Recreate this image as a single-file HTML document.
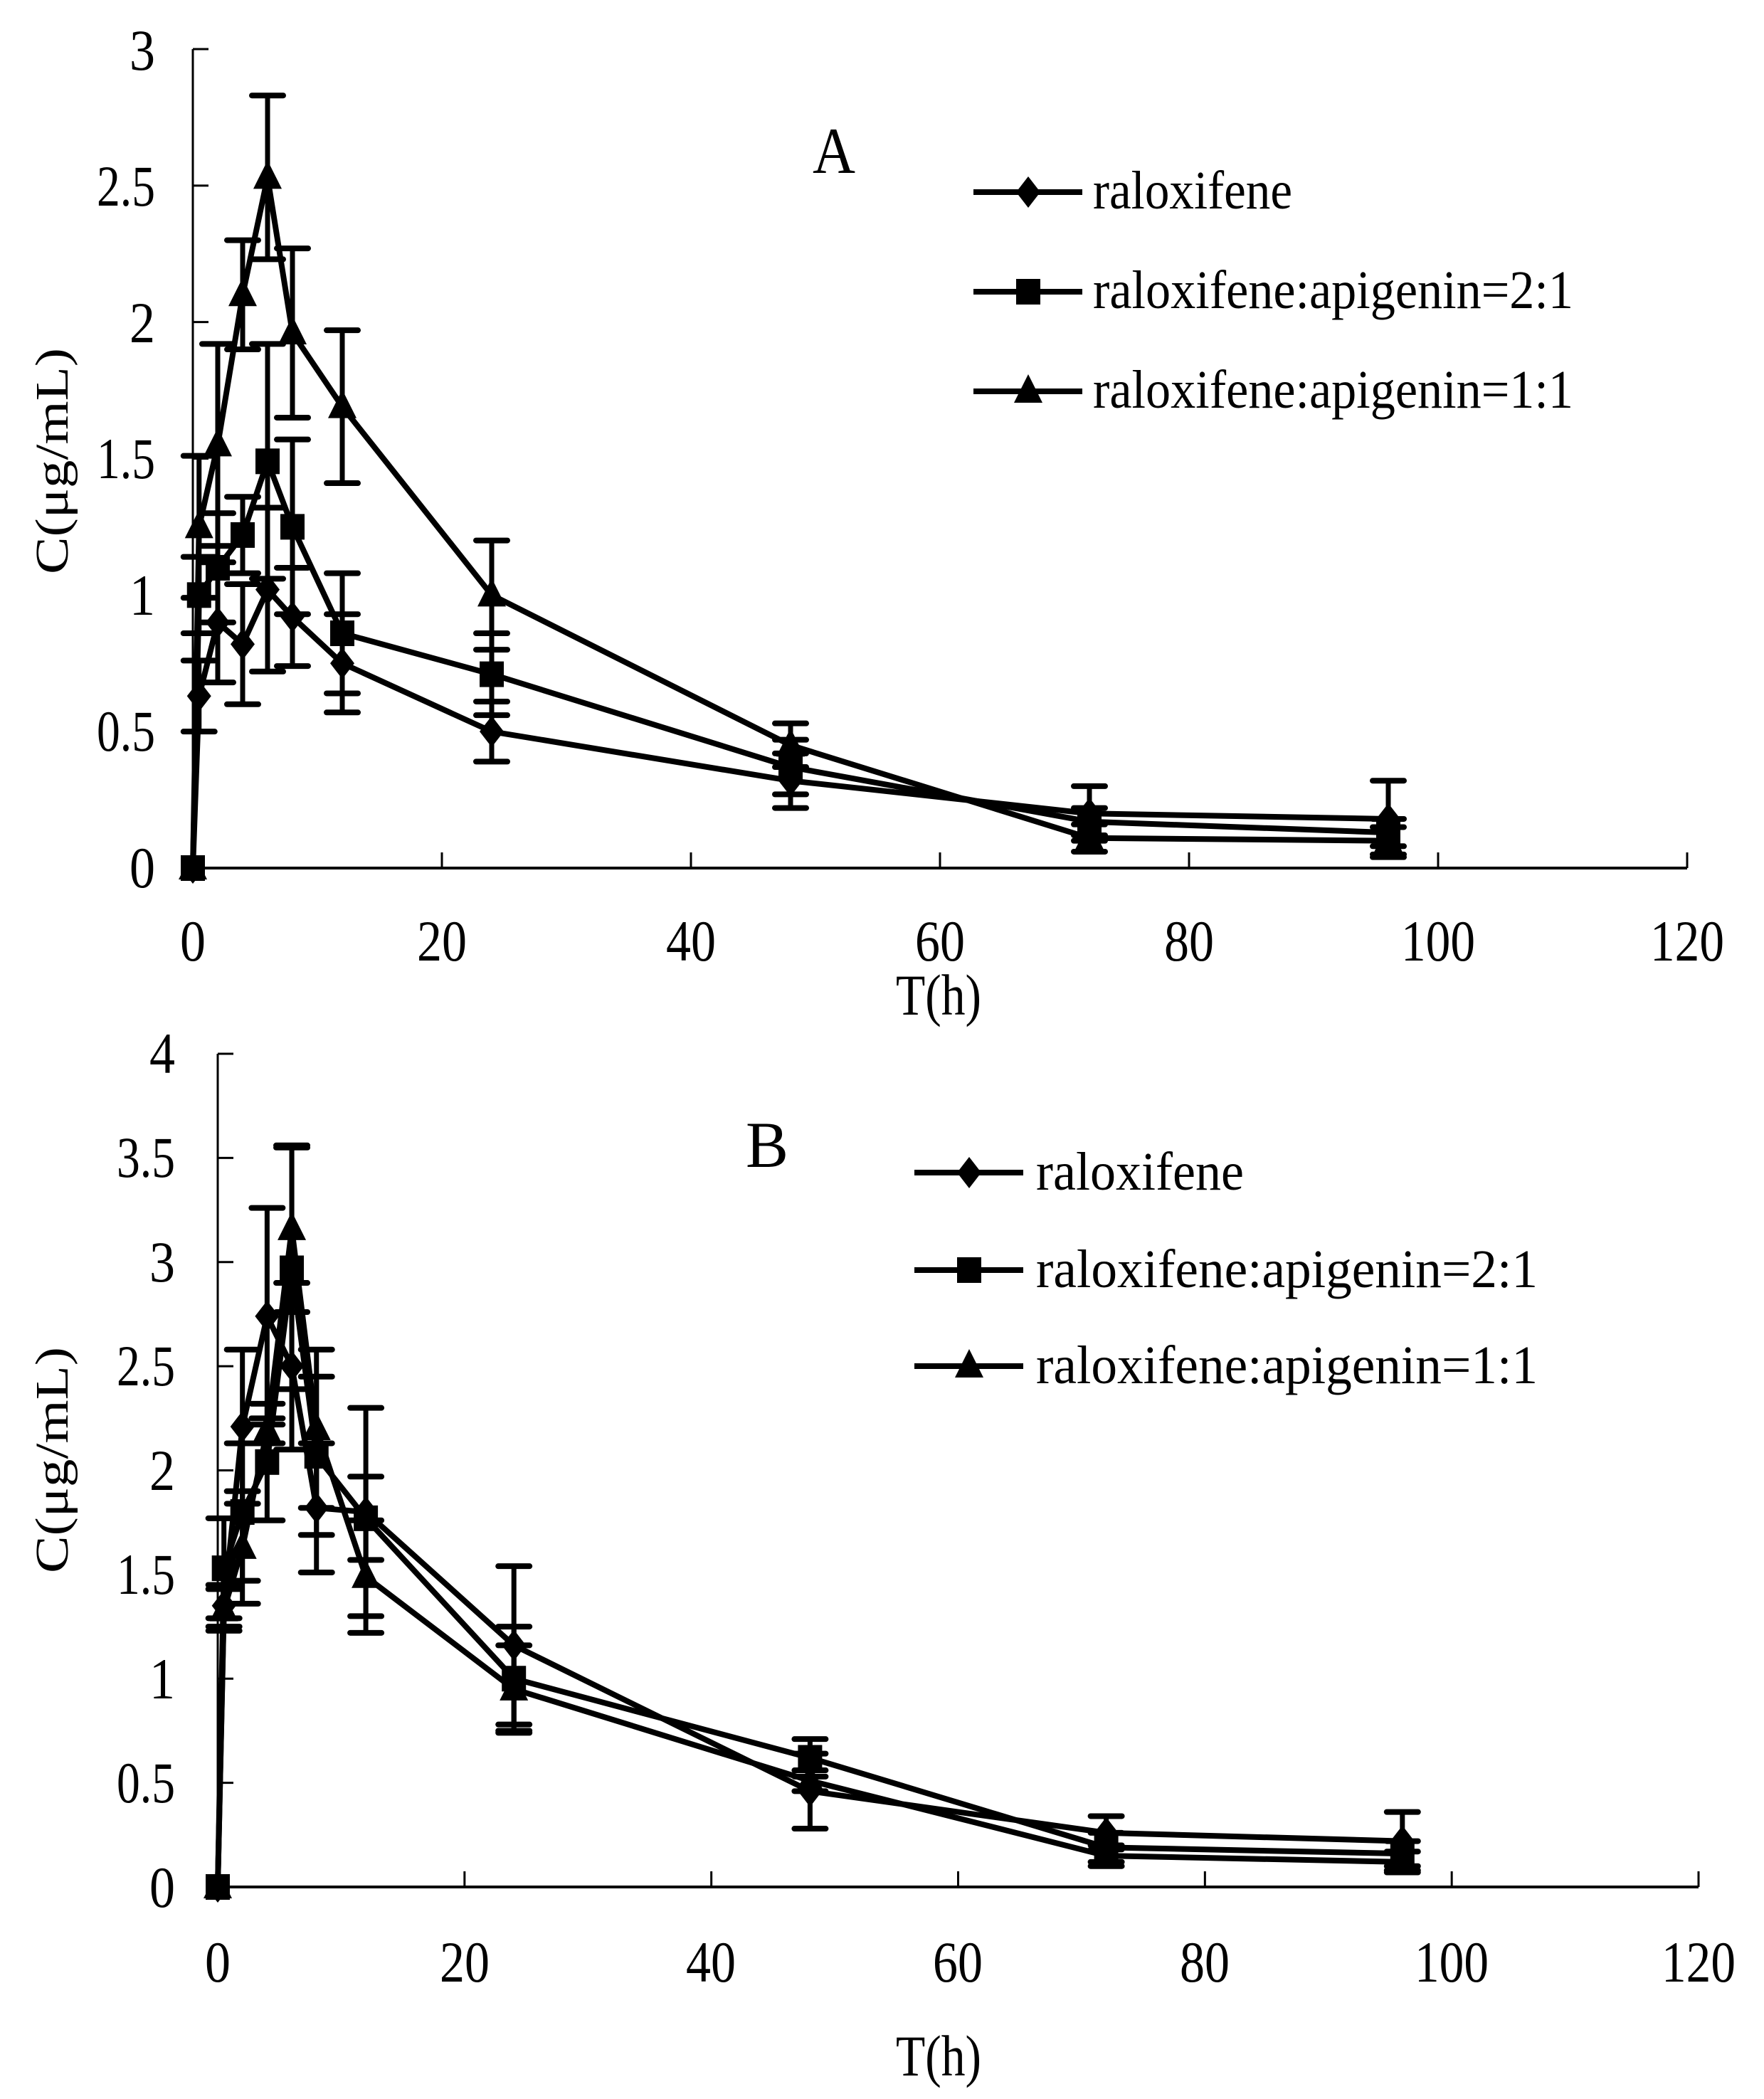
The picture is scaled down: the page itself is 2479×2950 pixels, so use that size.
<!DOCTYPE html>
<html><head><meta charset="utf-8"><style>
html,body{margin:0;padding:0;background:#fff;}
svg{display:block;}
text{font-family:"Liberation Serif",serif;fill:#000;}
</style></head><body>
<svg id="s" width="2479" height="2950" viewBox="0 0 2479 2950" xmlns="http://www.w3.org/2000/svg">
<rect width="2479" height="2950" fill="#fff"/>
<g id="plot"></g>
<!-- Plot A text -->
<g font-size="82" text-anchor="end">
<text x="218" y="1247" textLength="36" lengthAdjust="spacingAndGlyphs">0</text>
<text x="218" y="1055" textLength="82" lengthAdjust="spacingAndGlyphs">0.5</text>
<text x="218" y="864" textLength="36" lengthAdjust="spacingAndGlyphs">1</text>
<text x="218" y="672" textLength="82" lengthAdjust="spacingAndGlyphs">1.5</text>
<text x="218" y="481" textLength="36" lengthAdjust="spacingAndGlyphs">2</text>
<text x="218" y="289" textLength="82" lengthAdjust="spacingAndGlyphs">2.5</text>
<text x="218" y="98" textLength="36" lengthAdjust="spacingAndGlyphs">3</text>
</g>
<g font-size="82" text-anchor="middle">
<text x="271" y="1350" textLength="36" lengthAdjust="spacingAndGlyphs">0</text>
<text x="621" y="1350" textLength="70" lengthAdjust="spacingAndGlyphs">20</text>
<text x="971" y="1350" textLength="70" lengthAdjust="spacingAndGlyphs">40</text>
<text x="1321" y="1350" textLength="70" lengthAdjust="spacingAndGlyphs">60</text>
<text x="1671" y="1350" textLength="70" lengthAdjust="spacingAndGlyphs">80</text>
<text x="2021" y="1350" textLength="104" lengthAdjust="spacingAndGlyphs">100</text>
<text x="2371" y="1350" textLength="104" lengthAdjust="spacingAndGlyphs">120</text>
<text x="1319" y="1426" textLength="120" lengthAdjust="spacingAndGlyphs">T(h)</text>
<text x="1172" y="243" font-size="92" textLength="60" lengthAdjust="spacingAndGlyphs">A</text>
</g>
<text transform="translate(95,648) rotate(-90)" font-size="66" text-anchor="middle" textLength="318" lengthAdjust="spacingAndGlyphs">C(μg/mL)</text>
<g font-size="76">
<text x="1536" y="293" textLength="280" lengthAdjust="spacingAndGlyphs">raloxifene</text>
<text x="1536" y="433" textLength="675" lengthAdjust="spacingAndGlyphs">raloxifene:apigenin=2:1</text>
<text x="1536" y="573" textLength="675" lengthAdjust="spacingAndGlyphs">raloxifene:apigenin=1:1</text>
</g>
<!-- Plot B text -->
<g font-size="82" text-anchor="end">
<text x="246" y="2680" textLength="36" lengthAdjust="spacingAndGlyphs">0</text>
<text x="246" y="2533" textLength="82" lengthAdjust="spacingAndGlyphs">0.5</text>
<text x="246" y="2387" textLength="36" lengthAdjust="spacingAndGlyphs">1</text>
<text x="246" y="2240" textLength="82" lengthAdjust="spacingAndGlyphs">1.5</text>
<text x="246" y="2094" textLength="36" lengthAdjust="spacingAndGlyphs">2</text>
<text x="246" y="1947" textLength="82" lengthAdjust="spacingAndGlyphs">2.5</text>
<text x="246" y="1801" textLength="36" lengthAdjust="spacingAndGlyphs">3</text>
<text x="246" y="1654" textLength="82" lengthAdjust="spacingAndGlyphs">3.5</text>
<text x="246" y="1508" textLength="36" lengthAdjust="spacingAndGlyphs">4</text>
</g>
<g font-size="82" text-anchor="middle">
<text x="306" y="2785" textLength="36" lengthAdjust="spacingAndGlyphs">0</text>
<text x="653" y="2785" textLength="70" lengthAdjust="spacingAndGlyphs">20</text>
<text x="999" y="2785" textLength="70" lengthAdjust="spacingAndGlyphs">40</text>
<text x="1346" y="2785" textLength="70" lengthAdjust="spacingAndGlyphs">60</text>
<text x="1693" y="2785" textLength="70" lengthAdjust="spacingAndGlyphs">80</text>
<text x="2040" y="2785" textLength="104" lengthAdjust="spacingAndGlyphs">100</text>
<text x="2387" y="2785" textLength="104" lengthAdjust="spacingAndGlyphs">120</text>
<text x="1319" y="2917" textLength="120" lengthAdjust="spacingAndGlyphs">T(h)</text>
<text x="1078" y="1640" font-size="92" textLength="60" lengthAdjust="spacingAndGlyphs">B</text>
</g>
<text transform="translate(95,2052) rotate(-90)" font-size="66" text-anchor="middle" textLength="318" lengthAdjust="spacingAndGlyphs">C(μg/mL)</text>
<g font-size="76">
<text x="1456" y="1672" textLength="292" lengthAdjust="spacingAndGlyphs">raloxifene</text>
<text x="1456" y="1809" textLength="705" lengthAdjust="spacingAndGlyphs">raloxifene:apigenin=2:1</text>
<text x="1456" y="1944" textLength="705" lengthAdjust="spacingAndGlyphs">raloxifene:apigenin=1:1</text>
</g>
</svg>
<script>
(function(){
var NS="http://www.w3.org/2000/svg",g=document.getElementById("plot");
function el(n,a){var e=document.createElementNS(NS,n);for(var k in a)e.setAttribute(k,a[k]);g.appendChild(e);return e;}
var T=[0,0.5,2,4,6,8,12,24,48,72,96];
function plot(P){
 function X(t){return P.x0+t*(P.x1-P.x0)/120;}
 function Y(v){return P.y0-v*(P.y0-P.yt)/P.ymax;}
 el("line",{x1:P.x0,y1:P.yt,x2:P.x0,y2:P.y0,stroke:"#000","stroke-width":3});
 el("line",{x1:P.x0,y1:P.y0,x2:P.x1,y2:P.y0,stroke:"#000","stroke-width":4});
 for(var v=0;v<=P.ymax+1e-9;v+=0.5)el("line",{x1:P.x0,y1:Y(v),x2:P.x0+22,y2:Y(v),stroke:"#000","stroke-width":3});
 for(var t=20;t<=120;t+=20)el("line",{x1:X(t),y1:P.y0,x2:X(t),y2:P.y0-22,stroke:"#000","stroke-width":3});
 P.series.forEach(function(s){
  var pts=T.map(function(t,i){return X(t)+","+Y(s.v[i]);}).join(" ");
  el("polyline",{points:pts,fill:"none",stroke:"#000","stroke-width":8,"stroke-linejoin":"round"});
  T.forEach(function(t,i){var e=s.e[i];if(!e)return;var x=X(t);
   el("line",{x1:x,y1:Y(s.v[i]-e),x2:x,y2:Y(s.v[i]+e),stroke:"#000","stroke-width":7});
   [s.v[i]-e,s.v[i]+e].forEach(function(v){el("line",{x1:x-22,y1:Y(v),x2:x+22,y2:Y(v),stroke:"#000","stroke-width":8,"stroke-linecap":"round"});});
  });
  T.forEach(function(t,i){mark(s.m,X(t),Y(s.v[i]));});
 });
 P.leg.forEach(function(L,i){el("line",{x1:L[0],y1:L[1],x2:L[0]+153,y2:L[1],stroke:"#000","stroke-width":8});mark(["d","s","t"][i],L[0]+77,L[1]);});
}
function mark(m,x,y){
 if(m=="d")el("polygon",{points:(x)+","+(y-22)+" "+(x+17)+","+y+" "+x+","+(y+22)+" "+(x-17)+","+y,fill:"#000"});
 else if(m=="s")el("rect",{x:x-17,y:y-18,width:34,height:36,fill:"#000"});
 else el("polygon",{points:x+","+(y-24)+" "+(x+20)+","+(y+16)+" "+(x-20)+","+(y+16),fill:"#000"});
}
plot({x0:271,x1:2371,y0:1220,yt:69,ymax:3,
 series:[
 {m:"d",v:[0,0.63,0.9,0.82,1.02,0.92,0.75,0.5,0.32,0.2,0.18],e:[0,0.13,0.22,0.22,0.3,0.18,0.18,0.11,0.1,0.1,0.14]},
 {m:"s",v:[0,1.0,1.1,1.22,1.49,1.25,0.86,0.71,0.37,0.17,0.13],e:[0,0.14,0.2,0.14,0.43,0.32,0.22,0.15,0.1,0.05,0.05]},
 {m:"t",v:[0,1.25,1.55,2.1,2.53,1.96,1.69,1.0,0.45,0.11,0.1],e:[0,0.26,0.37,0.2,0.3,0.31,0.28,0.2,0.08,0.05,0.05]}],
 leg:[[1368,270],[1368,410],[1368,550]]});
plot({x0:306,x1:2387,y0:2652,yt:1481,ymax:4,
 series:[
 {m:"d",v:[0,1.35,2.21,2.74,2.5,1.82,1.8,1.16,0.46,0.26,0.22],e:[0,0.1,0.37,0.52,0.4,0.31,0.5,0.38,0.18,0.08,0.14]},
 {m:"s",v:[0,1.53,1.8,2.04,2.97,2.07,1.77,1.0,0.62,0.19,0.16],e:[0,0.24,0.33,0.28,0.58,0.38,0.2,0.25,0.09,0.07,0.06]},
 {m:"t",v:[0,1.33,1.63,2.19,3.16,2.2,1.49,0.95,0.51,0.15,0.12],e:[0,0.1,0.27,0.06,0.4,0.38,0.27,0.21,0.05,0.05,0.05]}],
 leg:[[1285,1648],[1285,1785],[1285,1920]]});
})();
</script>
</body></html>
